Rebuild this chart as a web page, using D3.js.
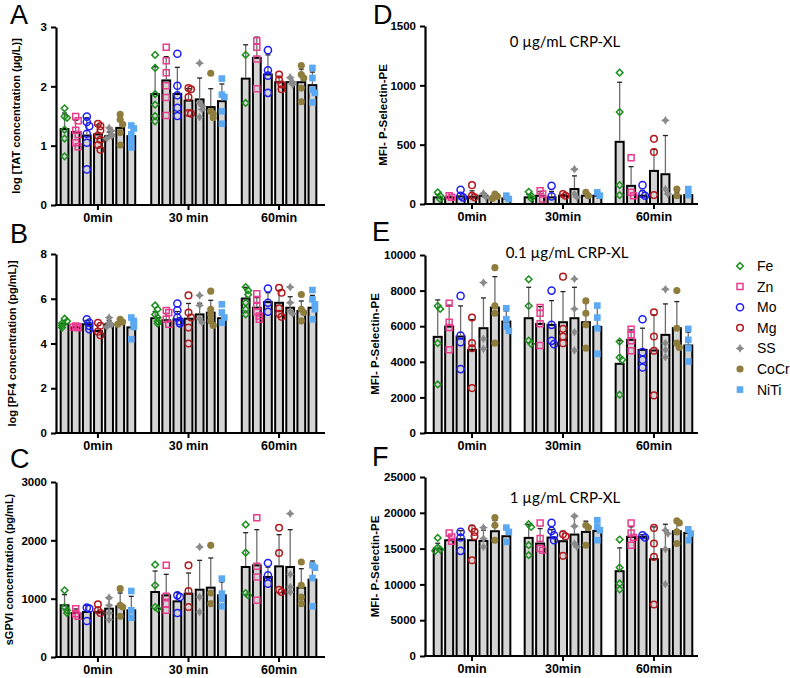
<!DOCTYPE html>
<html><head><meta charset="utf-8">
<script src="https://cdn.jsdelivr.net/npm/d3@7"></script>
<style>body{margin:0;background:#fff}svg{display:block}</style>
</head><body>
<script>
const materials = ["Fe","Zn","Mo","Mg","SS","CoCr","NiTi"];
const groupsLeft = ["0min","30 min","60min"];
const groupsRight = ["0min","30min","60min"];

const ticksA = [0,1,2,3];
const ticksB = [0,2,4,6,8];
const ticksC = [0,1000,2000,3000];
const ticksD = [0,500,1000,1500];
const ticksE = [0,2000,4000,6000,8000,10000];
const ticksF = [0,5000,10000,15000,20000,25000];

// A: log TAT
const tatMean = [[1.28,1.23,1.17,1.19,1.16,1.30,1.16],[1.87,2.10,1.87,1.76,1.78,1.65,1.75],[2.13,2.48,2.20,2.07,2.07,2.07,2.02]];
const tatSD = [[0.27,0.20,0.30,0.16,0.07,0.20,0.15],[0.46,0.40,0.45,0.20,0.36,0.31,0.29],[0.57,0.35,0.33,0.10,0.06,0.22,0.22]];
const tatPts = [
 [[1.63,1.49,1.47,1.27,1.12,0.82],[1.49,1.42,1.26,1.19,1.05,0.98],[1.49,1.40,1.33,1.20,1.05,0.60],[1.37,1.33,1.26,1.17,1.10,1.01,0.93],[1.30,1.25,1.19,1.16,1.12],[1.53,1.44,1.36,1.22,1.01],[1.34,1.29,1.19,1.08,0.97]],
 [[2.53,2.31,1.87,1.69,1.50,1.41],[2.66,2.43,2.23,2.01,1.81,1.51],[2.55,2.01,1.85,1.64,1.50],[1.97,1.95,1.82,1.55,1.54],[2.39,1.72,1.67,1.61,1.48],[2.22,1.58,1.54,1.47],[2.13,1.86,1.82,1.58,1.37]],
 [[2.53,1.72],[2.77,2.66,2.46,1.96],[2.61,2.27,2.18,1.89],[2.20,2.11,2.03,1.95],[2.15,2.07,2.03],[2.35,2.20,2.14,1.97,1.74],[2.31,2.14,1.94,1.89,1.73]]
];

// B: log PF4
const pf4Mean = [[4.88,4.72,4.86,4.56,4.86,4.92,4.72],[5.13,5.04,5.08,5.11,5.30,5.38,5.13],[6.01,5.60,5.85,5.82,5.60,5.45,5.60]];
const pf4SD = [[0.15,0.05,0.17,0.25,0.18,0.10,0.40],[0.30,0.30,0.35,0.68,0.50,0.55,0.35],[0.50,0.45,0.42,0.55,0.49,0.45,0.55]];
const pf4Pts = [
 [[5.11,5.00,4.90,4.81,4.71],[4.78,4.75,4.73,4.70],[5.08,4.93,4.79,4.64],[4.93,4.79,4.53,4.37],[5.16,4.93,4.83,4.74],[5.08,4.96,4.86],[5.16,5.01,4.86,4.74,4.19]],
 [[5.70,5.53,5.30,5.16,5.00,4.89],[5.48,5.38,5.08,4.86],[5.79,5.48,5.16,5.00,4.90],[6.15,5.38,5.16,4.71,4.00],[6.15,5.70,5.11,4.93],[6.34,5.53,5.30,5.01,4.81],[5.75,5.38,5.16,4.93]],
 [[6.52,6.37,6.19,5.82,5.53,5.30],[6.22,5.97,5.67,5.42,5.23,5.08],[6.46,5.82,5.42],[6.49,6.27,5.57,5.33,5.19],[6.52,5.82,5.45,5.33],[6.19,5.53,5.38,5.01],[6.39,5.97,5.75,5.53,5.08]]
];

// C: sGPVI
const gpviMean = [[886,754,771,771,829,869,800],[1114,1057,954,1086,1154,1189,1057],[1543,1571,1371,1554,1543,1189,1326]];
const gpviSD = [[183,70,110,80,170,228,240],[360,360,150,354,503,508,230],[588,612,170,543,640,325,320]];
const gpviPts = [
 [[1143,857,800,754],[829,743,697],[846,829,617],[903,800,754],[1017,886,754,640],[1171,886,857,697],[1131,800,674]],
 [[1583,1229,857,829],[1571,1040,914,800],[1057,1029,754],[1571,1131,857],[1886,1029,771],[1914,1097,914],[1343,1086,1000,869]],
 [[2269,1789,1097,1057],[2389,1554,1371,971],[1611,1400,1257],[2217,1783,1154,1114],[2457,1417,1200,1114],[1629,1229,1029,914],[1571,1531,1354,869]]
];

// D: 0 µg/mL CRP-XL
const crp0Mean = [[56,56,64,61,70,61,47],[56,70,56,70,126,70,70],[524,153,70,279,251,70,75]];
const crp0SD = [[25,10,30,50,20,15,15],[25,35,50,10,111,15,15],[502,162,45,181,326,30,30]];
const crp0Pts = [
 [[98,70,42],[70,56],[120,70,56],[159,70,56],[89,56],[84,64,47],[70,42]],
 [[103,70,47],[112,84,42],[153,64],[84,70],[293,84,56],[98,70],[98,70]],
 [[1107,775,159,75],[390,98,70],[159,84,70],[549,438,75],[705,126,84],[126,70],[126,75]]
];

// E: 0.1 µg/mL CRP-XL
const crp01Mean = [[5402,5981,5420,4673,5888,7047,6262],[6449,6131,6075,6224,6449,6224,5963],[3888,5234,4673,4636,5514,5888,4916]];
const crp01SD = [[2075,1200,1720,1700,1700,1738,600],[1738,972,1364,1720,1738,1100,1150],[1300,560,1215,2000,1738,1495,750]];
const crp01Pts = [
 [[7140,6972,5047,2729],[7290,6224,5925,4673],[7701,5477,5103,3589],[6486,5047,4766,2523],[8449,5290,4729],[9290,7140,6729,5047],[7009,6393,5981,5738]],
 [[8636,7140,5196,5009],[7047,6729,6131,4916],[8000,6075,5178,4991],[8785,5850,5420,5047],[8655,6972,5664,4636],[7421,6729,6075,4766],[7159,6486,5888,4449]],
 [[5140,4243,4112,2150],[5832,5514,5178,4617],[6393,4542,4112,3682],[6785,5420,4617,2112],[8075,5047,4673,4262],[8000,5888,5047,4804],[5850,5234,4766,4019]]
];

// F: 1 µg/mL CRP-XL
const crp1Mean = [[15000,16171,16310,16171,16078,17426,16729],[16497,15706,16543,16032,16961,17333,17472],[11849,16636,16636,13522,14916,17426,17193]];
const crp1SD = [[750,600,1200,2091,1487,1500,1000],[1900,2094,1100,1400,2695,1500,1200],[3253,1400,300,4507,3485,1500,800]];
const crp1Pts = [
 [[16497,15149,14870,14684],[17193,16636,16032],[17333,16543,14684],[17800,17333,16729,13383],[17937,16404,15242],[19331,18262,16171],[17937,17333,15938]],
 [[18401,18029,15474,14080],[18587,16404,15009,14777],[18587,17472,16868,16171],[17007,16729,13987],[19517,18122,15706,15242],[18262,17937,15474],[18959,18029,17565,16171]],
 [[16264,12360,10130,9294],[18587,17193,16543,15474],[16868,16543],[17893,15706,13848,7203],[17565,17100,14916,10037],[18866,18587,17333,15706],[17658,17100,16171]]
];

const colors = {Fe:"#1b8f1b",Zn:"#ec3b8f",Mo:"#1c1cf5",Mg:"#b3181c",SS:"#8a8a8a",CoCr:"#8e7d3d",NiTi:"#5aa9f2"};

const star4 = {draw(ctx,size){const r=Math.sqrt(size)*0.75,i=r*0.38;
 ctx.moveTo(0,-r);ctx.lineTo(i,-i);ctx.lineTo(r,0);ctx.lineTo(i,i);ctx.lineTo(0,r);ctx.lineTo(-i,i);ctx.lineTo(-r,0);ctx.lineTo(-i,-i);ctx.closePath();}};
const diamondSq = {draw(ctx,size){const r=Math.sqrt(size)/2;
 ctx.moveTo(0,-r);ctx.lineTo(r,0);ctx.lineTo(0,r);ctx.lineTo(-r,0);ctx.closePath();}};
const markers = {
 Fe:{type:diamondSq,size:44,fill:false},
 Zn:{type:d3.symbolSquare,size:36,fill:false},
 Mo:{type:d3.symbolCircle,size:40,fill:false},
 Mg:{type:d3.symbolCircle,size:34,fill:false},
 SS:{type:star4,size:34,fill:true},
 CoCr:{type:d3.symbolCircle,size:40,fill:true},
 NiTi:{type:d3.symbolSquare,size:44,fill:true}
};
function drawMarker(sel, m, x, y){
 const mk = markers[m];
 sel.append("path").attr("d", d3.symbol().type(mk.type).size(mk.size)())
  .attr("transform",`translate(${x},${y})`)
  .attr("fill", mk.fill ? colors[m] : "none")
  .attr("stroke", mk.fill ? "none" : colors[m])
  .attr("stroke-width", 1.5);
}

const svg = d3.select("body").append("svg").attr("width",790).attr("height",678)
  .style("font-family","'Liberation Sans', Arial, sans-serif");

function panel(p){
 const g = svg.append("g");
 const y = d3.scaleLinear().domain([0,p.ticks[p.ticks.length-1]]).range([p.bottom,p.top]);
 const x0 = d3.scaleBand().domain(p.groups).range(p.xr).paddingInner(p.pad);
 const x1 = d3.scaleBand().domain(materials).range([0,x0.bandwidth()]).paddingInner(0.3).paddingOuter(0.15);
 const bw = x1.bandwidth();
 p.groups.forEach((grp,gi)=>materials.forEach((m,mi)=>{
   const bx = x0(grp)+x1(m), v = p.mean[gi][mi], cx = bx+bw/2;
   g.append("rect").attr("x",bx).attr("y",y(v)).attr("width",bw).attr("height",y(0)-y(v))
    .attr("fill","#d4d4d4").attr("stroke","#000").attr("stroke-width",2);
   const top = y(v+p.sd[gi][mi]);
   g.append("line").attr("x1",cx).attr("x2",cx).attr("y1",y(v)-1).attr("y2",top).attr("stroke","#6e6e6e").attr("stroke-width",1.3);
   g.append("line").attr("x1",cx-2.5).attr("x2",cx+2.5).attr("y1",top).attr("y2",top).attr("stroke","#222").attr("stroke-width",1.3);
 }));
 p.groups.forEach((grp,gi)=>materials.forEach((m,mi)=>{
   const cx = x0(grp)+x1(m)+bw/2;
   const placed = [];
   p.pts[gi][mi].forEach(v=>{
     const py = y(v);
     let off = 0;
     const near = placed.filter(q=>Math.abs(q.y-py)<5);
     if(near.length){ off = near.length%2 ? 2.5 : -2.5; }
     placed.push({y:py,off});
     drawMarker(g,m,cx+off,py);
   });
 }));
 const ya = g.append("g").attr("transform",`translate(${p.left},0)`)
   .call(d3.axisLeft(y).tickValues(p.ticks).tickSize(5).tickSizeOuter(0).tickPadding(4).tickFormat(d3.format("d")));
 ya.select(".domain").attr("stroke-width",2.2);
 ya.selectAll(".tick line").attr("stroke-width",2);
 ya.selectAll("text").attr("font-size",11.5).attr("font-weight","bold").attr("font-family","'Liberation Sans', Arial, sans-serif").attr("fill","#000");
 const xa = g.append("g").attr("transform",`translate(0,${p.bottom})`)
   .call(d3.axisBottom(x0).tickSize(5).tickSizeOuter(0).tickPadding(3));
 xa.select(".domain").remove();
 xa.selectAll(".tick line").attr("stroke-width",2);
 xa.selectAll("text").attr("font-size",12.5).attr("font-weight","bold").attr("font-family","'Liberation Sans', Arial, sans-serif").attr("fill","#000");
 g.append("line").attr("x1",p.left-1).attr("x2",p.right).attr("y1",p.bottom).attr("y2",p.bottom).attr("stroke","#000").attr("stroke-width",2.2);
 g.append("text").attr("transform",`translate(${p.ytx},${(p.top+p.bottom)/2}) rotate(-90)`)
  .attr("text-anchor","middle").attr("dominant-baseline","central")
  .attr("font-size",p.ytSize||11).attr("font-weight","bold").text(p.ytitle);
 g.append("text").attr("x",p.lx).attr("y",p.ly).attr("font-size",27).attr("font-family","'Liberation Sans', Arial, sans-serif").text(p.letter);
 if(p.sub){
   g.append("text").attr("x",p.subx).attr("y",p.suby).attr("text-anchor","middle")
    .attr("font-size",15).attr("font-family","Lato, 'Open Sans', sans-serif").text(p.sub);
 }
}

const L = {left:56,right:325,xr:[59,318],pad:0.14,groups:groupsLeft};
const R = {left:425,right:698,xr:[432,694],pad:0.12,groups:groupsRight};

panel({...L,top:27,bottom:205,ticks:ticksA,mean:tatMean,sd:tatSD,pts:tatPts,ytitle:"log [TAT concentration (µg/L)]",ytx:16,letter:"A",lx:10,ly:24});
panel({...L,top:254,bottom:433,ticks:ticksB,mean:pf4Mean,sd:pf4SD,pts:pf4Pts,ytitle:"log [PF4 concentration (pg/mL)]",ytx:12,letter:"B",lx:10,ly:243});
panel({...L,top:482,bottom:657,ticks:ticksC,mean:gpviMean,sd:gpviSD,pts:gpviPts,ytitle:"sGPVI concentration (pg/mL)",ytx:9,letter:"C",lx:10,ly:468});
panel({...R,top:26,bottom:204,ticks:ticksD,mean:crp0Mean,sd:crp0SD,pts:crp0Pts,ytitle:"MFI- P-Selectin-PE",ytx:383,ytSize:11.5,letter:"D",lx:373,ly:24,sub:"0 µg/mL CRP-XL",subx:565,suby:47});
panel({...R,top:255,bottom:433,ticks:ticksE,mean:crp01Mean,sd:crp01SD,pts:crp01Pts,ytitle:"MFI- P-Selectin-PE",ytx:375,ytSize:11.5,letter:"E",lx:372,ly:241,sub:"0.1 µg/mL CRP-XL",subx:567,suby:258});
panel({...R,top:477,bottom:656,ticks:ticksF,mean:crp1Mean,sd:crp1SD,pts:crp1Pts,ytitle:"MFI- P-Selectin-PE",ytx:375,ytSize:11.5,letter:"F",lx:372,ly:466,sub:"1 µg/mL CRP-XL",subx:565,suby:503});

const lg = svg.append("g");
materials.forEach((m,i)=>{
  const yy = 266 + i*20.6;
  drawMarker(lg,m,740,yy);
  lg.append("text").attr("x",757).attr("y",yy).attr("dominant-baseline","central")
    .attr("font-size",14).attr("font-family","'Liberation Sans', Arial, sans-serif").text(m);
});
</script>
</body></html>
